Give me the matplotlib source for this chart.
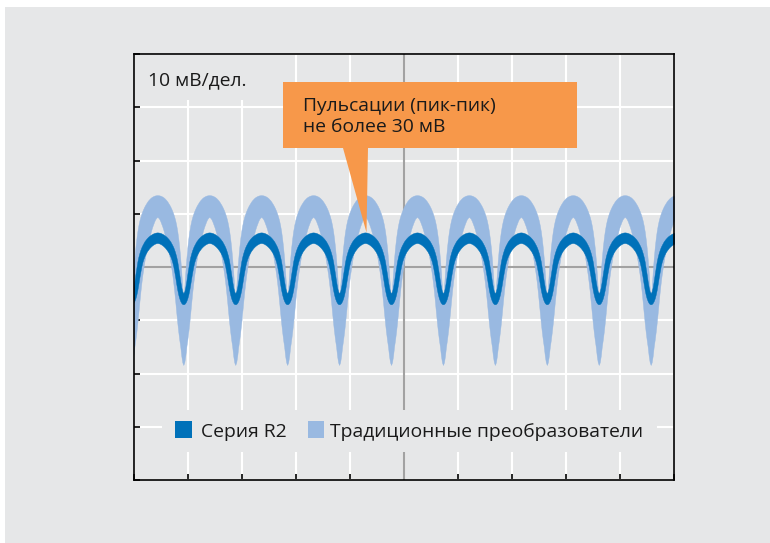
import numpy as np
import matplotlib
matplotlib.use("Agg")
import matplotlib.pyplot as plt
from matplotlib.patches import Rectangle, Polygon

# ---------------- data ----------------
# time axis in divisions (10 div), voltage in mV (10 mV/div)
x_divisions = list(range(0, 11))
y_divisions = list(range(-40, 41, 10))

ripple_period_div = 0.9617      # one ripple cycle, in divisions
first_dip_div = 0.913           # position of the first ripple minimum

# half-cycle profile, sampled every 1/52 of a period from the minimum (0) to the maximum (26)
half_cycle_steps = list(range(27))
steps_per_period = 52

r2_upper_half = [-4.9, -4.6, -3.8, -2.7, -1.4, -0.2, 1.0, 1.9, 2.6, 3.2, 3.7, 4.1, 4.45,
                 4.8, 5.05, 5.3, 5.5, 5.7, 5.85, 6.0, 6.12, 6.23, 6.32, 6.4, 6.45, 6.48, 6.5]
r2_lower_half = [-7.0, -6.95, -6.75, -6.4, -5.9, -5.2, -4.3, -3.2, -2.0, -0.9, 0.1, 0.9, 1.5,
                 2.0, 2.4, 2.75, 3.05, 3.3, 3.55, 3.75, 3.93, 4.08, 4.22, 4.33, 4.42, 4.47, 4.5]
trad_upper_half = [-6.0, -4.0, -1.0, 1.5, 3.6, 5.3, 6.7, 7.8, 8.7, 9.4, 10.0, 10.5, 10.95,
                   11.35, 11.7, 12.0, 12.3, 12.55, 12.75, 12.95, 13.1, 13.22, 13.32, 13.4, 13.45, 13.48, 13.5]
trad_lower_half = [-18.4, -17.9, -16.7, -15.0, -13.7, -12.2, -10.5, -8.6, -6.6, -4.7, -3.0, -1.5, -0.2,
                   1.0, 2.1, 3.1, 4.0, 4.8, 5.6, 6.3, 7.0, 7.6, 8.1, 8.6, 9.0, 9.25, 9.4]

cycles = list(range(-1, 11))

series_labels = ["Серия R2", "Традиционные преобразователи"]
scale_label = "10 мВ/дел."
note_lines = ["Пульсации (пик-пик)", "не более 30 мВ"]

# ---------------- styling ----------------
PANEL = "#e6e7e8"
DARK = "#0071b9"
LIGHT = "#99b9e1"
ORANGE = "#f7984a"
CENTER = "#a2a2a2"
TEXT = "#1a1a1a"
FONT = ["Open Sans", "DejaVu Sans"]
FS = 13.9

plt.rcParams["font.family"] = FONT

W, H = 770, 543
fig = plt.figure(figsize=(W / 100, H / 100), dpi=100, facecolor="white")
fig.patches.append(Rectangle((5 / W, 0), 1 - 5 / W, (H - 7) / H, transform=fig.transFigure,
                             facecolor=PANEL, edgecolor="none", zorder=-10))

L_, R_, T_, B_ = 134, 674, 54, 480
ax = fig.add_axes([L_ / W, (H - B_) / H, (R_ - L_) / W, (B_ - T_) / H])
ax.set_facecolor(PANEL)
ax.set_xlim(0, 10)
ax.set_ylim(-40, 40)


def px2data(px, py):
    return ((px - L_) / (R_ - L_) * 10.0, 40 - (py - T_) / (B_ - T_) * 80.0)


# grid
ax.set_xticks(x_divisions)
ax.set_yticks(y_divisions)
ax.set_xticklabels([])
ax.set_yticklabels([])
ax.set_axisbelow(True)
ax.grid(True, color="white", lw=1.5, zorder=0.5)
ax.tick_params(direction="in", length=4, width=1.2, color="black", top=False, right=False)
for s in ax.spines.values():
    s.set_color("black")
    s.set_linewidth(1.2)
    s.set_zorder(6)
ax.axhline(0, color=CENTER, lw=1.5, zorder=1.2)
ax.axvline(5, color=CENTER, lw=1.5, zorder=1.2)

# build waveforms from the cycle profile
def full_cycle(half):
    h = np.asarray(half, float)
    return np.concatenate([h[::-1], h[1:-1]])   # -26 .. 25

steps = np.asarray(half_cycle_steps)
cycle_phase = np.concatenate([-steps[::-1], steps[1:-1]]) / steps_per_period


def build(half):
    vals = full_cycle(half)
    t, v = [], []
    for k in cycles:
        t.append(first_dip_div + (k + cycle_phase) * ripple_period_div)
        v.append(vals)
    return np.concatenate(t), np.concatenate(v)


t, tu = build(trad_upper_half)
_, tl = build(trad_lower_half)
_, ru = build(r2_upper_half)
_, rl = build(r2_lower_half)

ax.fill_between(t, tl, tu, color=LIGHT, lw=0.3, edgecolor=LIGHT, zorder=2)
ax.fill_between(t, rl, ru, color=DARK, lw=0.3, edgecolor=DARK, zorder=3)

# background patches behind texts (hide gridlines)
def px_rect(x0, y0, x1, y1, **kw):
    a = px2data(x0, y1)
    b = px2data(x1, y0)
    ax.add_patch(Rectangle(a, b[0] - a[0], b[1] - a[1], **kw))


px_rect(135, 55, 270, 100, facecolor=PANEL, edgecolor="none", zorder=1.5)
px_rect(162, 410, 657, 452, facecolor=PANEL, edgecolor="none", zorder=1.5)

# scale label
ax.text(*px2data(148, 85), scale_label, fontsize=FS, color=TEXT, va="baseline", ha="left", zorder=7)

# callout
poly = [px2data(*p) for p in [(283, 82), (577, 82), (577, 148), (368, 148), (366.5, 232.5),
                              (343, 148), (283, 148)]]
ax.add_patch(Polygon(poly, closed=True, facecolor=ORANGE, edgecolor="none", zorder=8))
ax.text(*px2data(303, 111), note_lines[0], fontsize=FS, color=TEXT, va="baseline", ha="left", zorder=9)
ax.text(*px2data(303, 132.5), note_lines[1], fontsize=FS, color=TEXT, va="baseline", ha="left", zorder=9)

# legend
for (sx, col, lab, tx) in [(175, DARK, series_labels[0], 201), (307.5, LIGHT, series_labels[1], 329.5)]:
    px_rect(sx, 421, sx + 16.7, 437.5, facecolor=col, edgecolor="none", zorder=7)
    ax.text(*px2data(tx, 437.3), lab, fontsize=FS, color=TEXT, va="baseline", ha="left", zorder=7)

fig.savefig("out.png", dpi=100, facecolor="white")
